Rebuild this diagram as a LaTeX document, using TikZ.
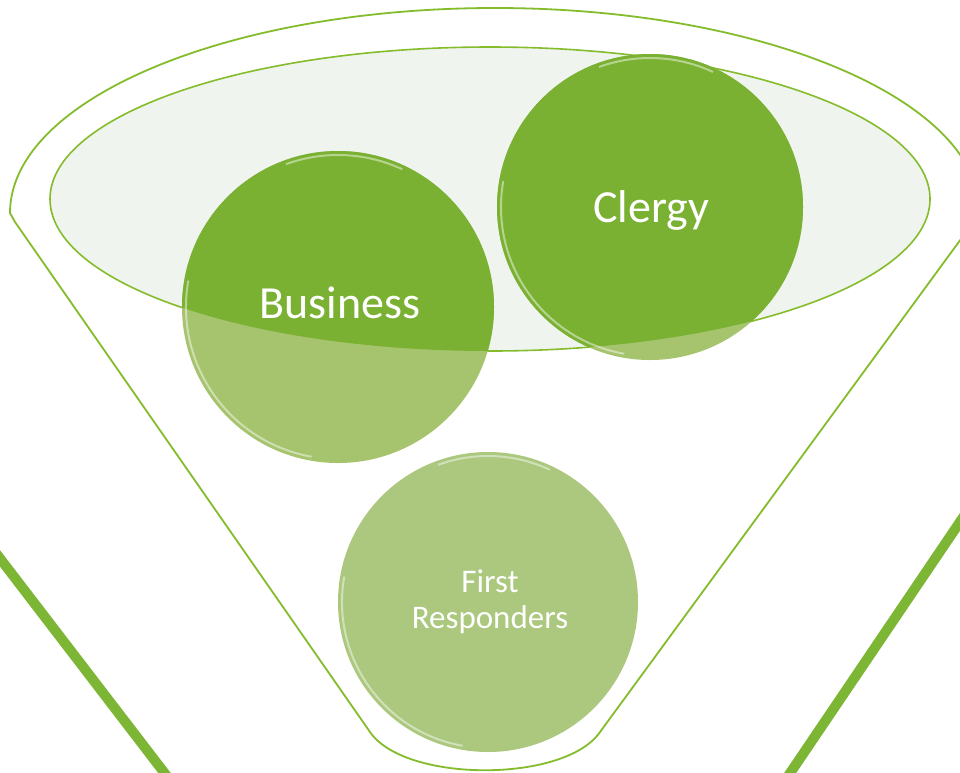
\documentclass[tikz,border=0pt]{standalone}
\usepackage{fontspec}
\setmainfont{Carlito}
\definecolor{fgreen}{HTML}{7DB634}
\definecolor{lineg}{HTML}{84BC2C}
\definecolor{dgreen}{HTML}{7AB132}
\definecolor{lgreen}{HTML}{A6C46E}
\definecolor{pgreen}{HTML}{ABC87E}
\definecolor{glass}{HTML}{F0F4EE}
\tikzset{
  funnel/.style={draw=lineg, line width=1.8pt, fill=white},
  thickbar/.style={draw=fgreen, line width=10pt},
  glassy/.style={fill=glass},
  glassline/.style={draw=lineg, line width=1.6pt},
  ball/.style={circle, inner sep=0pt, outer sep=0pt, draw=none},
  rim/.style={draw=white, line width=2pt, draw opacity=0.45},
  lbl/.style={text=white, inner sep=0pt},
}
\begin{document}
\begin{tikzpicture}[x=1pt,y=-1pt]
\useasboundingbox (0,0) rectangle (960,772);
\clip (0,0) rectangle (960,772);
\fill[white] (0,0) rectangle (960,772);
% thick outer bars
\coordinate (la) at (-8,548);
\coordinate (lb) at (176,788);
\coordinate (ra) at (968,510);
\coordinate (rb) at (780,788);
\draw[thickbar] (la) -- (lb);
\draw[thickbar] (ra) -- (rb);
% funnel outline
\draw[funnel] (370,732) -- (15,222) -- (10,213)
  arc[start angle=180, end angle=360, x radius=485, y radius=205]
  -- (600,732) .. controls (565,783) and (405,783) .. cycle;
% inner ellipse (glass)
\path[glassy, glassline] (490,199) ellipse [x radius=440, y radius=152];
% circles (lighter base)
\node[ball, fill=lgreen, minimum size=312pt] (bus) at (338,307) {};
\node[ball, fill=lgreen, minimum size=306pt] (cle) at (650,207) {};
\node[ball, fill=pgreen, minimum size=300pt] (fr) at (488,602) {};
% darker part inside the glass
\begin{scope}
  \clip (0,0) -- (960,0) -- (960,199) -- (930,199)
    arc[start angle=0, end angle=180, x radius=440, y radius=152]
    -- (0,199) -- cycle;
  \fill[dgreen] (bus.center) circle[radius=156];
  \fill[dgreen] (cle.center) circle[radius=153];
\end{scope}
% glossy rims
\draw[rim] (bus.center) ++(100:152) arc[start angle=100, end angle=190, radius=152];
\draw[rim] (cle.center) ++(100:149) arc[start angle=100, end angle=190, radius=149];
\draw[rim] (fr.center) ++(100:146) arc[start angle=100, end angle=190, radius=146];
\draw[rim] (bus.center) ++(250:152) arc[start angle=250, end angle=295, radius=152];
\draw[rim] (cle.center) ++(250:149) arc[start angle=250, end angle=295, radius=149];
\draw[rim] (fr.center) ++(250:146) arc[start angle=250, end angle=295, radius=146];
% labels
\node[lbl, anchor=base, font=\fontsize{46}{50}\selectfont] (tbus) at (340,318) {Business};
\node[lbl, anchor=base, font=\fontsize{46}{50}\selectfont] (tcle) at (651,222) {Clergy};
\node[lbl, align=center, font=\fontsize{33}{36}\selectfont] (tfr) at (490,602) {First\\Responders};
\end{tikzpicture}
\end{document}
